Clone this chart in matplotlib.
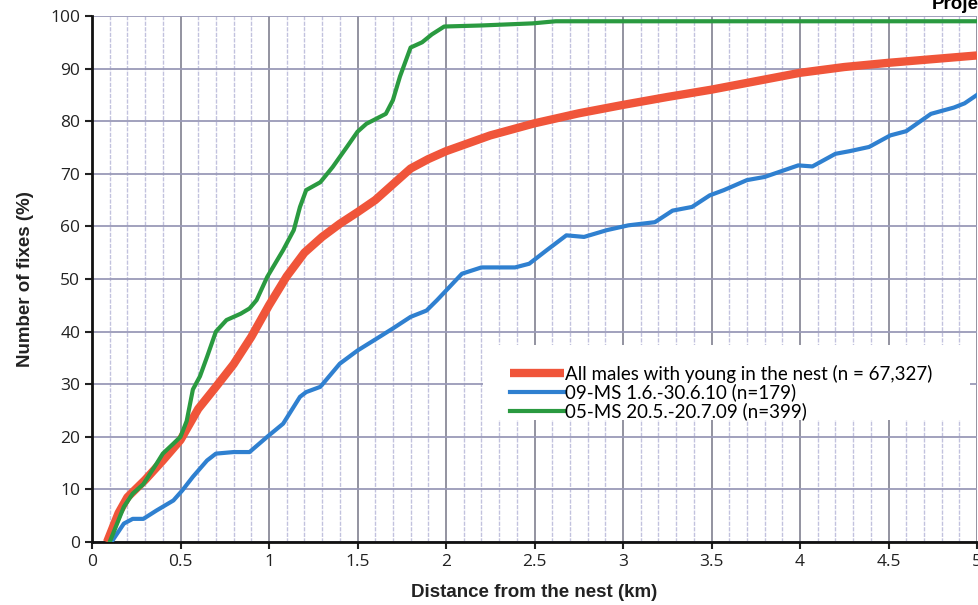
import matplotlib
matplotlib.use("Agg")
import matplotlib.pyplot as plt
from matplotlib.patches import Rectangle
from matplotlib.ticker import MultipleLocator

# distance from the nest (km) / cumulative share of fixes (%)
all_x = [0.085, 0.15, 0.2, 0.3, 0.4, 0.5, 0.6, 0.7, 0.8, 0.9, 1.0, 1.1, 1.2, 1.3,
         1.4, 1.5, 1.6, 1.7, 1.8, 1.9, 2.0, 2.25, 2.5, 2.75, 3.0, 3.25, 3.5,
         3.75, 4.0, 4.25, 4.5, 4.75, 5.0]
all_y = [0, 5.5, 8.5, 11.8, 15.5, 19.4, 25.3, 29.5, 33.8, 39, 45, 50.5, 55, 58,
         60.5, 62.7, 65, 68, 71, 72.8, 74.3, 77.3, 79.6, 81.5, 83.1, 84.6, 86,
         87.6, 89.2, 90.3, 91.1, 91.8, 92.5]

ms09_x = [0.11, 0.18, 0.23, 0.29, 0.365, 0.46, 0.51, 0.57, 0.65, 0.70, 0.80,
          0.89, 0.99, 1.08, 1.175, 1.21, 1.29, 1.40, 1.50, 1.61, 1.70, 1.80,
          1.89, 1.95, 2.09, 2.20, 2.39, 2.47, 2.57, 2.68, 2.78, 2.91, 3.03,
          3.18, 3.28, 3.39, 3.49, 3.57, 3.70, 3.80, 3.99, 4.07, 4.20, 4.28,
          4.39, 4.51, 4.60, 4.74, 4.87, 4.93, 5.0]
ms09_y = [0, 3.5, 4.4, 4.4, 6, 7.9, 9.8, 12.4, 15.5, 16.8, 17.1, 17.1, 20,
          22.5, 27.6, 28.5, 29.5, 33.9, 36.4, 38.7, 40.6, 42.8, 44, 46, 51,
          52.2, 52.2, 52.9, 55.5, 58.3, 58, 59.3, 60.2, 60.8, 63, 63.7, 65.9,
          66.9, 68.8, 69.4, 71.6, 71.4, 73.8, 74.3, 75.1, 77.3, 78.1, 81.4,
          82.6, 83.4, 85]

ms05_x = [0.10, 0.18, 0.23, 0.29, 0.365, 0.40, 0.46, 0.50, 0.535, 0.57, 0.61,
          0.65, 0.70, 0.76, 0.84, 0.89, 0.93, 0.99, 1.08, 1.14, 1.175, 1.21,
          1.29, 1.36, 1.44, 1.50, 1.55, 1.66, 1.70, 1.74, 1.80, 1.865, 1.92,
          1.99, 2.2, 2.49, 2.62, 3.0, 4.0, 5.0]
ms05_y = [0, 6.7, 9.2, 11, 14.9, 16.8, 18.7, 20, 23, 29, 31.5, 35.2, 40, 42.2,
          43.4, 44.4, 46, 50.4, 55.5, 59.3, 63.7, 66.9, 68.4, 71.3, 75.1, 78,
          79.5, 81.4, 84, 88.5, 94, 95, 96.5, 98, 98.2, 98.6, 99, 99, 99, 99]

labels = ["All males with young in the nest (n = 67,327)",
          "09-MS 1.6.-30.6.10 (n=179)",
          "05-MS 20.5.-20.7.09 (n=399)"]

tick_font = "Open Sans"

fig = plt.figure(figsize=(9.79, 6.05), dpi=100)
ax = fig.add_axes([92 / 979, 1 - 542 / 605, 885 / 979, 526 / 605])

ax.set_xlim(0, 5)
ax.set_ylim(0, 100)
ax.xaxis.set_major_locator(MultipleLocator(0.5))
ax.xaxis.set_minor_locator(MultipleLocator(0.1))
ax.yaxis.set_major_locator(MultipleLocator(10))

ax.grid(which="minor", axis="x", color="#c2c2de", lw=1.0, ls=(0, (3, 1)))
ax.grid(which="major", axis="x", color="#8a8a98", lw=1.3)
ax.grid(which="major", axis="y", color="#9a9ab8", lw=1.3)
ax.set_axisbelow(True)

ax.tick_params(which="minor", length=0)
ax.tick_params(which="major", length=5, width=1.5, direction="out",
               labelsize=12.5, colors="#222222")
ax.set_xticks([0, 0.5, 1, 1.5, 2, 2.5, 3, 3.5, 4, 4.5, 5])
ax.set_xticklabels(["0", "0.5", "1", "1.5", "2", "2.5", "3", "3.5", "4", "4.5", "5"],
                   fontfamily=tick_font)
ax.set_yticks(range(0, 101, 10))
ax.set_yticklabels([str(v) for v in range(0, 101, 10)], fontfamily=tick_font)

for s in ["top", "right"]:
    ax.spines[s].set_visible(False)
for s in ["bottom", "left"]:
    ax.spines[s].set_linewidth(2)
    ax.spines[s].set_color("#111111")

# white box behind the legend, hides the grid there
ax.add_patch(Rectangle((0.442, 0.232), 0.55, 0.142, transform=ax.transAxes,
                       facecolor="white", edgecolor="none", zorder=1.5))

red, = ax.plot(all_x, all_y, color="#f0553a", lw=6, solid_capstyle="butt",
               label=labels[0], zorder=3)
blue, = ax.plot(ms09_x, ms09_y, color="#2f80d0", lw=3, label=labels[1], zorder=4)
green, = ax.plot(ms05_x, ms05_y, color="#2a9a40", lw=3, label=labels[2], zorder=4)

leg = ax.legend(handles=[red, blue, green], loc="upper left",
                bbox_to_anchor=(0.462, 0.355), frameon=False,
                handlelength=2.85, handletextpad=0.05, labelspacing=0.05,
                borderpad=0, prop={"family": "Lato", "size": 13.5})

ax.set_xlabel("Distance from the nest (km)", fontsize=13.5, fontweight="bold",
              fontfamily="Liberation Sans", color="#222222", labelpad=10)
ax.set_ylabel("Number of fixes (%)", fontsize=13.5, fontweight="bold",
              fontfamily="Liberation Sans", color="#222222", labelpad=12)

fig.text(932 / 979, 1 - 9 / 605, "Project", fontsize=13.5, fontweight="bold",
         fontfamily="Liberation Sans", va="baseline", ha="left")

fig.savefig("out.png", dpi=100)
